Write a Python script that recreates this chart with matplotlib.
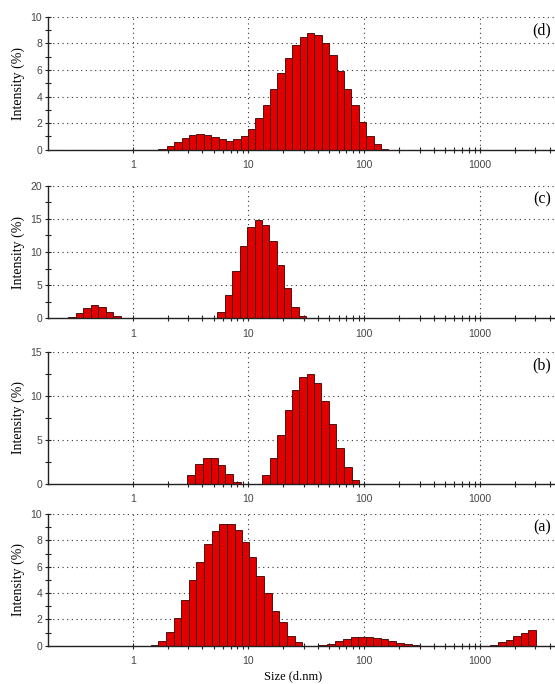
import numpy as np
import matplotlib
matplotlib.use("Agg")
import matplotlib.pyplot as plt
from matplotlib.ticker import FixedLocator, NullFormatter, FixedFormatter

# bin edges (nm) and intensity (%), one list per peak
d_edges = [1.664, 1.966, 2.287, 2.649, 3.063, 3.542, 4.104, 4.745, 5.529, 6.393,
           7.391, 8.563, 9.90, 11.45, 13.35, 15.34, 17.73, 20.54, 23.89, 27.68,
           32.01, 37.0, 42.87, 49.86, 57.77, 67.2, 77.2, 90.0, 104.1, 120.6,
           139.4, 161.5]
d_int = [0.05, 0.27, 0.55, 0.85, 1.1, 1.17, 1.1, 0.93, 0.78, 0.65,
         0.78, 1.05, 1.55, 2.4, 3.35, 4.55, 5.8, 6.9, 7.9, 8.5,
         8.77, 8.6, 8.05, 7.1, 5.9, 4.6, 3.35, 2.05, 1.05, 0.45, 0.05]

c1_edges = [0.277, 0.322, 0.374, 0.434, 0.504, 0.585, 0.679, 0.789]
c1_int = [0.2, 0.75, 1.6, 2.0, 1.75, 1.0, 0.35]
c2_edges = [5.39, 6.29, 7.27, 8.43, 9.74, 11.27, 13.06, 15.1, 17.47, 20.2,
            23.4, 27.3, 31.6]
c2_int = [1.0, 3.5, 7.2, 10.95, 13.8, 14.9, 14.1, 11.7, 8.1, 4.6, 1.75, 0.3]

b1_edges = [2.58, 2.95, 3.46, 4.04, 4.70, 5.44, 6.33, 7.34, 8.54]
b1_int = [0.05, 1.0, 2.25, 3.0, 2.9, 2.15, 1.1, 0.2]
b2_edges = [11.29, 13.17, 15.23, 17.76, 20.54, 23.8, 27.5, 31.85, 36.6, 42.7,
            49.8, 57.5, 67.1, 77.6, 89.8]
b2_int = [0.05, 1.0, 2.95, 5.55, 8.35, 10.7, 12.15, 12.5, 11.5, 9.45,
          6.75, 4.1, 1.9, 0.45]

a1_edges = [1.430, 1.667, 1.939, 2.260, 2.634, 3.063, 3.548, 4.159, 4.81, 5.61,
            6.52, 7.60, 8.74, 10.04, 11.70, 13.61, 15.86, 18.49, 21.5, 25.06,
            29.2]
a1_int = [0.05, 0.35, 1.06, 2.08, 3.44, 4.96, 6.38, 7.75, 8.68, 9.24,
          9.24, 8.76, 7.9, 6.7, 5.3, 3.97, 2.63, 1.8, 0.75, 0.25]
a2_edges = [40.1, 47.3, 55.8, 65.1, 76.3, 89.0, 103.5, 119.8, 138.6, 161.5,
            187.8, 218.8, 256.6, 296.7]
a2_int = [0.03, 0.12, 0.33, 0.5, 0.63, 0.66, 0.66, 0.6, 0.48, 0.35, 0.23, 0.1, 0.03]
a3_edges = [1217, 1439, 1674, 1940, 2256, 2612, 3038]
a3_int = [0.03, 0.25, 0.45, 0.75, 1.0, 1.17]

panels = [
    ("(d)", [(d_edges, d_int)], 10, 2, 1),
    ("(c)", [(c1_edges, c1_int), (c2_edges, c2_int)], 20, 5, 2.5),
    ("(b)", [(b1_edges, b1_int), (b2_edges, b2_int)], 15, 5, 2.5),
    ("(a)", [(a1_edges, a1_int), (a2_edges, a2_int), (a3_edges, a3_int)], 10, 2, 1),
]
# axes boxes in figure fraction (bottom, height)
boxes = [(0.7811, 0.1944), (0.5346, 0.1939), (0.2924, 0.1934), (0.0560, 0.1925)]

major_x = [1, 10, 100, 1000]
minor_x = [2, 3, 4, 5, 6, 7, 8, 9, 20, 30, 40, 50, 60, 70, 80, 90,
           200, 300, 400, 500, 600, 700, 800, 900, 2000, 3000, 4000]

fig = plt.figure(figsize=(5.55, 6.84), dpi=100)
left = 48.3 / 555

for (lab, peaks, ymax, ymaj, ymin), (bot, h) in zip(panels, boxes):
    ax = fig.add_axes([left, bot, 1 - left, h])
    ax.set_xscale("log")
    for edges, vals in peaks:
        e = np.array(edges)
        ax.bar(e[:-1], vals, width=np.diff(e), align="edge",
               color="#e00000", edgecolor="#3a0000", linewidth=0.6, zorder=3)
    ax.set_xlim(0.1867, 4436)
    ax.set_ylim(0, ymax)

    ax.xaxis.set_major_locator(FixedLocator(major_x))
    ax.xaxis.set_major_formatter(FixedFormatter([str(v) for v in major_x]))
    ax.xaxis.set_minor_locator(FixedLocator(minor_x))
    ax.xaxis.set_minor_formatter(NullFormatter())
    ax.yaxis.set_major_locator(FixedLocator(np.arange(0, ymax + 0.1, ymaj)))
    ax.yaxis.set_minor_locator(FixedLocator(np.arange(0, ymax + 0.1, ymin)))
    ax.set_yticklabels([f"{v:g}" for v in np.arange(0, ymax + 0.1, ymaj)])

    ax.tick_params(which="both", direction="inout", length=5, width=0.8,
                   colors="#222222", labelcolor="#444444", labelsize=7.5)
    ax.tick_params(axis="x", pad=5)
    ax.tick_params(axis="y", pad=2)
    for t in ax.get_xticklabels() + ax.get_yticklabels():
        t.set_family("Liberation Sans")

    ax.grid(True, which="major", color="#333333", linestyle=(0, (1, 3.2)),
            linewidth=0.8, zorder=1)
    for s in ["top", "right"]:
        ax.spines[s].set_visible(False)
    for s in ["left", "bottom"]:
        ax.spines[s].set_color("#222222")
        ax.spines[s].set_linewidth(1.0)
        ax.spines[s].set_zorder(4)

    ax.set_ylabel("Intensity (%)", family="Liberation Serif", fontsize=10, labelpad=4)
    ax.text(0.992, 0.9, lab, transform=ax.transAxes, ha="right", va="center",
            family="Liberation Serif", fontsize=11.5)

fig.text(293 / 555, 1 - 676 / 684, "Size (d.nm)", ha="center", va="center",
         family="Liberation Serif", fontsize=9)

fig.savefig("out.png", dpi=100)
